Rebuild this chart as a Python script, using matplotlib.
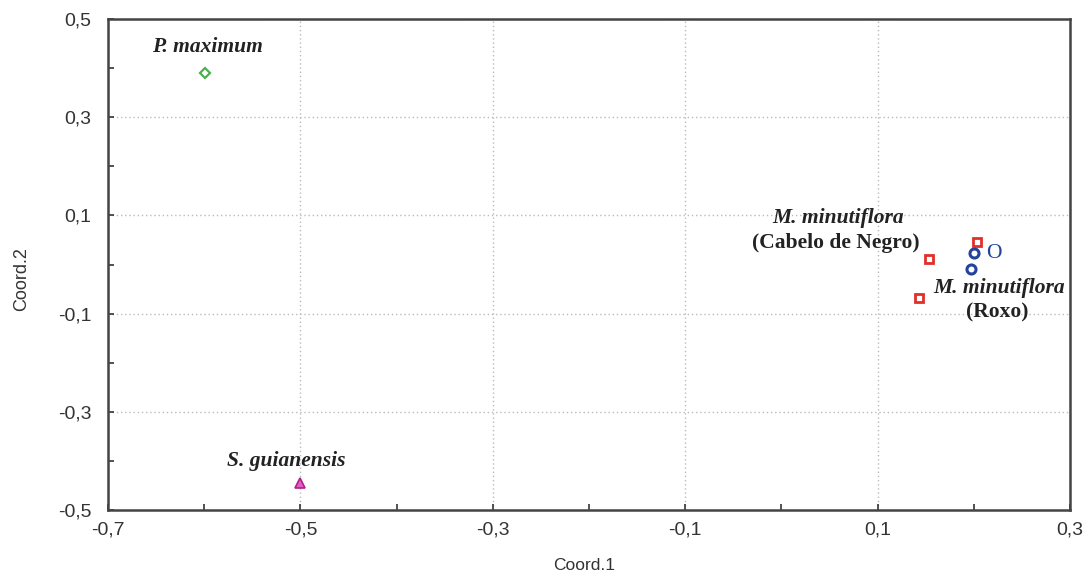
import matplotlib
matplotlib.use("Agg")
import matplotlib.pyplot as plt
from matplotlib.ticker import MultipleLocator, FuncFormatter

# coordinates of the forage samples (Coord.1, Coord.2)
p_max_x = [-0.599]
p_max_y = [0.390]
s_gui_x = [-0.500]
s_gui_y = [-0.445]
cabelo_x = [0.203, 0.153, 0.143]
cabelo_y = [0.046, 0.011, -0.068]
roxo_x = [0.200, 0.197]
roxo_y = [0.023, -0.009]

xticks = [-0.7, -0.5, -0.3, -0.1, 0.1, 0.3]
yticks = [-0.5, -0.3, -0.1, 0.1, 0.3, 0.5]

fig = plt.figure(figsize=(10.89, 5.78), dpi=100)
ax = fig.add_axes([0.0992, 0.1176, 0.8834, 0.8495])

ax.plot(p_max_x, p_max_y, linestyle="none", marker="D", markersize=5.5,
        markerfacecolor="white", markeredgecolor="#4caf50", markeredgewidth=1.6)
ax.plot(s_gui_x, s_gui_y, linestyle="none", marker="^", markersize=7,
        markerfacecolor="#e060c0", markeredgecolor="#b0208a", markeredgewidth=1.2)
ax.plot(cabelo_x, cabelo_y, linestyle="none", marker="s", markersize=6,
        markerfacecolor="white", markeredgecolor="#e0302a", markeredgewidth=2)
ax.plot(roxo_x, roxo_y, linestyle="none", marker="o", markersize=6.5,
        markerfacecolor="white", markeredgecolor="#23449a", markeredgewidth=2.2)

serif = "Liberation Serif"
fs = 15.5
ink = "#222222"
ax.text(-0.597, 0.443, "P. maximum", family=serif, style="italic", weight="bold",
        fontsize=fs, ha="center", va="center", color=ink)
ax.text(-0.515, -0.400, "S. guianensis", family=serif, style="italic", weight="bold",
        fontsize=fs, ha="center", va="center", color=ink)
ax.text(0.059, 0.095, "M. minutiflora", family=serif, style="italic", weight="bold",
        fontsize=fs, ha="center", va="center", color=ink)
ax.text(0.057, 0.044, "(Cabelo de Negro)", family=serif, weight="bold",
        fontsize=fs, ha="center", va="center", color=ink)
ax.text(0.226, -0.048, "M. minutiflora", family=serif, style="italic", weight="bold",
        fontsize=fs, ha="center", va="center", color=ink)
ax.text(0.224, -0.097, "(Roxo)", family=serif, weight="bold",
        fontsize=fs, ha="center", va="center", color=ink)
ax.text(0.221, 0.023, "O", family=serif, fontsize=fs, ha="center", va="center",
        color="#23449a")

ax.set_xlim(-0.7, 0.3)
ax.set_ylim(-0.5, 0.5)
ax.set_xticks(xticks)
ax.set_yticks(yticks)
ax.xaxis.set_minor_locator(MultipleLocator(0.1))
ax.yaxis.set_minor_locator(MultipleLocator(0.1))

comma = FuncFormatter(lambda v, pos: ("%.1f" % v).replace(".", ","))
ax.xaxis.set_major_formatter(comma)
ax.yaxis.set_major_formatter(comma)

ax.tick_params(which="both", direction="in", length=4, width=1.2, color="#333333",
               labelsize=14, labelcolor="#333333", pad=8)
ax.tick_params(axis="y", pad=12)
for lab in ax.get_xticklabels() + ax.get_yticklabels():
    lab.set_family("Liberation Sans")

ax.grid(True, which="major", linestyle=(0, (1, 2)), color="#bbbbbb", linewidth=1)
ax.set_axisbelow(True)
for s in ax.spines.values():
    s.set_linewidth(1.8)
    s.set_color("#444444")

ax.set_xlabel("Coord.1", fontsize=12.5, family="Liberation Sans", color="#333333")
ax.set_ylabel("Coord.2", fontsize=13, family="Liberation Sans", color="#333333")
ax.xaxis.set_label_coords(0.495, -0.097)
ax.yaxis.set_label_coords(-0.081, 0.47)

fig.savefig("out.png", dpi=100)
